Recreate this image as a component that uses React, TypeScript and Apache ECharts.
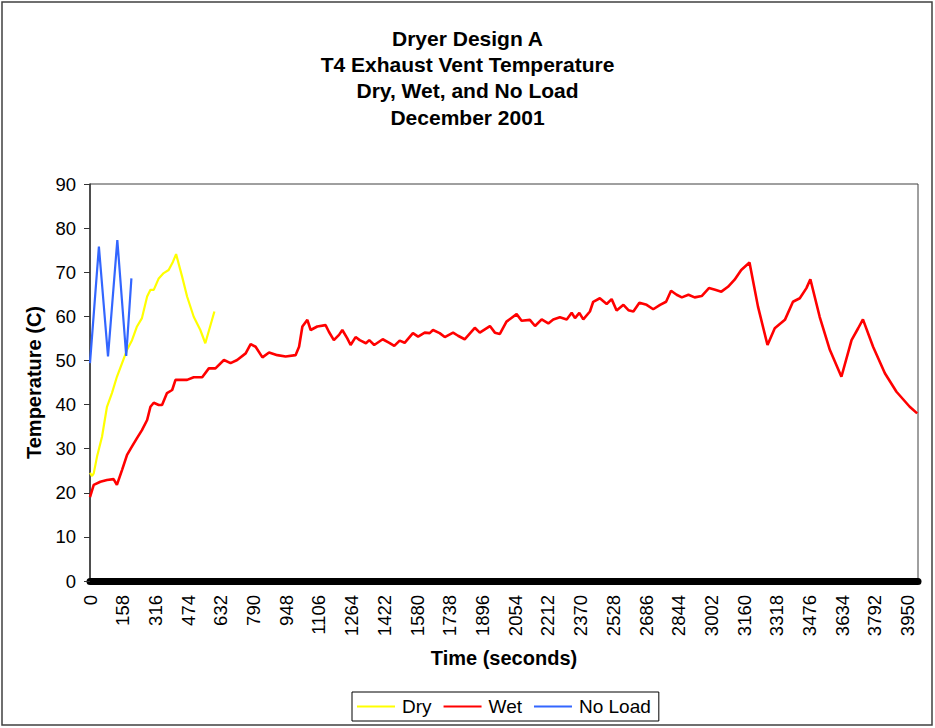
import React, { useEffect, useRef } from "react";
import * as echarts from "echarts";

const titleLines = ["Dryer Design A", "T4 Exhaust Vent Temperature", "Dry, Wet, and No Load", "December 2001"];
const seriesNames = ["Dry", "Wet", "No Load"];
const seriesColors = ["#FFFF00", "#FF0000", "#3366FF"];

const dryTime = [0, 10, 18, 34, 58, 82, 106, 130, 155, 179, 203, 227, 251, 276, 292, 308, 332, 356, 380, 401, 416, 445, 469, 501, 533, 557, 601];
const dryTemp = [24.5, 23.8, 24.4, 28.2, 32.7, 39.5, 42.6, 46.3, 49.4, 52.4, 54.6, 57.7, 59.6, 64.5, 66.0, 66.0, 68.6, 69.8, 70.5, 72.4, 74.1, 69.0, 64.5, 59.9, 56.9, 53.9, 61.1];

const wetTime = [0, 18, 50, 82, 114, 130, 155, 179, 203, 227, 251, 276, 292, 308, 332, 348, 372, 397, 413, 437, 469, 501, 542, 574, 606, 647, 679, 711, 752, 776, 800, 833, 865, 905, 945, 993, 1010, 1026, 1050, 1066, 1098, 1138, 1154, 1178, 1203, 1219, 1243, 1259, 1283, 1303, 1333, 1349, 1373, 1414, 1446, 1470, 1496, 1520, 1560, 1585, 1617, 1641, 1657, 1689, 1714, 1754, 1778, 1810, 1859, 1883, 1932, 1956, 1980, 2012, 2061, 2085, 2125, 2150, 2182, 2214, 2238, 2270, 2303, 2327, 2343, 2364, 2383, 2415, 2431, 2463, 2496, 2520, 2544, 2577, 2601, 2625, 2654, 2689, 2721, 2754, 2783, 2807, 2834, 2859, 2891, 2921, 2955, 2990, 3020, 3050, 3082, 3114, 3146, 3186, 3227, 3273, 3308, 3357, 3396, 3429, 3461, 3480, 3525, 3574, 3630, 3679, 3711, 3734, 3783, 3840, 3896, 3960, 3996];
const wetTemp = [19.0, 21.8, 22.5, 22.9, 23.1, 21.8, 25.2, 28.6, 30.5, 32.4, 34.2, 36.5, 39.5, 40.4, 39.9, 39.9, 42.6, 43.3, 45.6, 45.6, 45.6, 46.2, 46.2, 48.2, 48.2, 50.1, 49.4, 50.1, 51.6, 53.7, 53.1, 50.7, 51.8, 51.2, 50.9, 51.2, 53.1, 57.7, 59.2, 56.9, 57.7, 58.0, 56.5, 54.6, 55.8, 56.9, 55.0, 53.5, 55.3, 54.6, 53.9, 54.6, 53.5, 54.8, 54.0, 53.3, 54.5, 54.0, 56.2, 55.4, 56.3, 56.2, 56.9, 56.2, 55.3, 56.3, 55.6, 54.8, 57.4, 56.3, 57.8, 56.3, 56.0, 58.8, 60.5, 59.0, 59.2, 57.8, 59.3, 58.4, 59.3, 59.8, 59.3, 60.8, 59.6, 60.8, 59.3, 61.1, 63.3, 64.1, 62.8, 63.9, 61.3, 62.6, 61.4, 61.1, 63.1, 62.6, 61.6, 62.6, 63.3, 65.8, 64.9, 64.3, 64.9, 64.3, 64.6, 66.4, 66.0, 65.6, 66.7, 68.3, 70.5, 72.2, 62.2, 53.5, 57.3, 59.2, 63.3, 64.1, 66.4, 68.4, 59.9, 52.4, 46.3, 54.6, 57.3, 59.3, 53.1, 47.1, 42.9, 39.5, 38.0];

const noLoadTime = [0, 43, 87, 132, 175, 200];
const noLoadTemp = [49.4, 75.8, 50.9, 77.3, 51.0, 68.6];

const FONT = "'Liberation Sans', Arial, sans-serif";

const pairs = (t: number[], v: number[]) => t.map((x, i) => [x, v[i]]);

export default function App() {
  const ref = useRef<HTMLDivElement>(null);
  useEffect(() => {
    if (!ref.current) return;
    const chart = echarts.init(ref.current, undefined, { renderer: "svg" });
    const dataSets = [pairs(dryTime, dryTemp), pairs(wetTime, wetTemp), pairs(noLoadTime, noLoadTemp)];
    chart.setOption({
      animation: false,
      backgroundColor: "#fff",
      title: {
        text: titleLines.join("\n"),
        left: "center",
        top: 25,
        padding: 0,
        textStyle: { fontFamily: FONT, fontSize: 21, fontWeight: "bold", color: "#000", lineHeight: 26.3 },
      },
      graphic: [
        {
          type: "rect",
          shape: { x: 2, y: 2, width: 930, height: 723 },
          style: { fill: "none", stroke: "#404040", lineWidth: 1.5 },
          silent: true,
          z: -1,
        },
      ],
      legend: {
        data: seriesNames,
        left: 352,
        top: 692,
        padding: [5, 8, 5, 5],
        itemGap: 12,
        itemWidth: 38,
        itemHeight: 2,
        icon: "rect",
        borderColor: "#000",
        borderWidth: 1,
        textStyle: { fontFamily: FONT, fontSize: 19, color: "#000", padding: [0, 0, 0, 2] },
      },
      grid: {
        left: 90,
        right: 17,
        top: 184,
        bottom: 147,
        show: true,
        borderColor: "#404040",
        borderWidth: 1,
        backgroundColor: "#fff",
      },
      xAxis: {
        type: "value",
        min: 0,
        max: 4000,
        interval: 158,
        offset: 4,
        name: "Time (seconds)",
        nameLocation: "middle",
        nameGap: 63,
        nameTextStyle: { fontFamily: FONT, fontSize: 20, fontWeight: "bold", color: "#000" },
        axisLine: { show: true, lineStyle: { color: "#000", width: 7 } },
        axisTick: { show: false },
        splitLine: { show: false },
        axisLabel: {
          rotate: 90,
          margin: 10,
          showMaxLabel: false,
          formatter: (v: number) => String(v),
          fontFamily: FONT,
          fontSize: 18.5,
          color: "#000",
        },
      },
      yAxis: {
        type: "value",
        min: 0,
        max: 90,
        interval: 10,
        name: "Temperature (C)",
        nameLocation: "middle",
        nameGap: 46,
        nameTextStyle: { fontFamily: FONT, fontSize: 20, fontWeight: "bold", color: "#000" },
        axisLine: { show: true, lineStyle: { color: "#333", width: 1.5 } },
        axisTick: { show: true, inside: false, length: 6, lineStyle: { color: "#333" } },
        splitLine: { show: false },
        axisLabel: { margin: 14, fontFamily: FONT, fontSize: 18.5, color: "#000" },
      },
      series: seriesNames.map((name, i) => ({
        name,
        type: "line",
        data: dataSets[i],
        symbol: "none",
        color: seriesColors[i],
        lineStyle: { color: seriesColors[i], width: i === 1 ? 2.6 : 2.2 },
        z: i === 2 ? 4 : i === 0 ? 3 : 2,
      })),
    });
    return () => chart.dispose();
  }, []);
  return <div ref={ref} style={{ position: "fixed", left: 0, top: 0, width: 935, height: 728 }} />;
}
